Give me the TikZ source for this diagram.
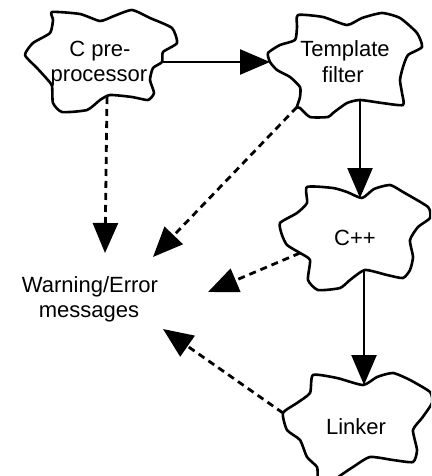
\documentclass[tikz,border=0pt]{standalone}
\usepackage{fontspec}
\setmainfont{Liberation Sans}
\usetikzlibrary{arrows.meta}
\begin{document}
\begin{tikzpicture}[x=1pt,y=-1pt,
  cloud/.style={draw=black, line width=2.6pt, line join=round},
  txt/.style={anchor=base, inner sep=0pt, font=\fontsize{22}{25}\selectfont},
  flow/.style={line width=2.4pt, -{Triangle[length=30pt,width=25pt]}},
  msg/.style={flow, line width=2.8pt, dash pattern=on 7pt off 5pt}]
\fill[white] (0,0) rectangle (431,476);
\clip (0,0) rectangle (431,476);

% --- cloud outlines -------------------------------------------------
\draw[cloud] plot[smooth cycle, tension=0.35] coordinates {
  (52,12) (80,14) (100,21) (114,16) (132,10) (150,18) (172,28) (177,43)
  (163,52) (162,62) (153,68) (150,80) (154,93) (148,100) (132,97) (110,95)
  (100,100) (87,110) (62,112) (53,103) (52,86) (47,79) (37,68) (25,55)
  (33,43) (50,33) (53,20)};
\draw[cloud] plot[smooth cycle, tension=0.35] coordinates {
  (298,15) (323,17) (347,25) (362,18) (382,13) (400,18) (417,33) (422,47)
  (408,55) (403,67) (400,80) (402,93) (403,105) (382,103) (360,100)
  (347,103) (333,113) (328,117) (310,117) (300,108) (297,107) (300,97)
  (300,87) (290,77) (277,70) (270,62) (268,53) (280,45) (295,40) (297,27)};
\draw[cloud] plot[smooth cycle, tension=0.35] coordinates {
  (307,187) (333,188) (347,192) (362,198) (374,189) (390,185) (403,192)
  (428,207) (430,218) (418,227) (410,240) (413,257) (410,270) (403,278)
  (387,275) (365,270) (350,280) (340,288) (318,290) (308,280) (310,260)
  (300,253) (287,245) (282,235) (280,223) (297,213) (307,203)};
\draw[cloud] plot[smooth cycle, tension=0.35] coordinates {
  (313,375) (337,378) (363,385) (377,377) (393,373) (410,380) (430,392)
  (432,403) (422,418) (413,430) (417,450) (413,462) (393,460) (370,457)
  (353,467) (337,478) (325,490) (318,478) (317,467) (307,457) (300,440)
  (287,430) (283,413) (297,403) (310,393)};

% --- labels -----------------------------------------------------------
\node[txt] (cpA) at (100,57) {C pre-};
\node[txt] (cpB) at (99,82) {processor};
\node[txt] (tfA) at (345,57) {Template};
\node[txt] (tfB) at (343,83) {filter};
\node[txt] (cxx) at (355,245) {C++};
\node[txt] (lnk) at (356,434) {Linker};
\node[txt] (weA) at (90,292) {Warning/Error};
\node[txt] (weB) at (89,317) {messages};

% --- attachment points on the outlines ----------------------------------
\coordinate (cpE) at (162,62);
\coordinate (cpS) at (107,97);
\coordinate (tfW) at (270,62);
\coordinate (tfS) at (360,100);
\coordinate (tfSW) at (297,107);
\coordinate (cxN) at (360,198);
\coordinate (cxS) at (364,270);
\coordinate (cxW) at (300,253);
\coordinate (lkN) at (364,385);
\coordinate (lkW) at (283,413);
\coordinate (weN1) at (105,253);
\coordinate (weN2) at (153,257);
\coordinate (weE) at (208,292);
\coordinate (weSE) at (163,329);

% --- connectors -------------------------------------------------------
\draw[flow] (cpE) -- (tfW);
\draw[flow] (tfS) -- (cxN);
\draw[flow] (cxS) -- (lkN);
\draw[msg] (cpS) -- (weN1);
\draw[msg] (tfSW) -- (weN2);
\draw[msg] (cxW) -- (weE);
\draw[msg] (lkW) -- (weSE);
\end{tikzpicture}
\end{document}
